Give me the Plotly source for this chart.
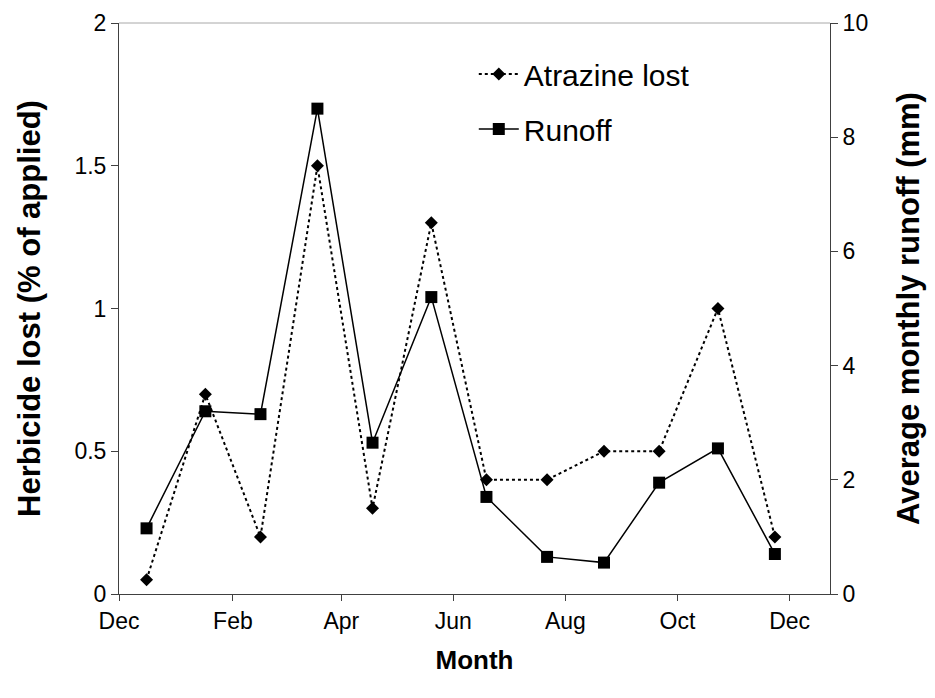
import plotly.graph_objects as go

# Sampling dates (approx. mid-month)
dates = ["2000-12-16", "2001-01-17", "2001-02-16", "2001-03-19", "2001-04-18",
         "2001-05-20", "2001-06-19", "2001-07-22", "2001-08-22", "2001-09-21",
         "2001-10-23", "2001-11-23"]

# Atrazine lost (% of applied), left axis
atrazine = [0.05, 0.7, 0.2, 1.5, 0.3, 1.3, 0.4, 0.4, 0.5, 0.5, 1.0, 0.2]

# Average monthly runoff (mm), right axis
runoff = [1.15, 3.2, 3.15, 8.5, 2.65, 5.2, 1.7, 0.65, 0.55, 1.95, 2.55, 0.7]

tick_dates = ["2000-12-01", "2001-02-01", "2001-04-01", "2001-06-01",
              "2001-08-01", "2001-10-01", "2001-12-01"]
tick_labels = ["Dec", "Feb", "Apr", "Jun", "Aug", "Oct", "Dec"]

FONT = "Liberation Sans, Arial, sans-serif"

fig = go.Figure()
fig.add_trace(go.Scatter(
    x=dates, y=atrazine, name="Atrazine lost", mode="lines+markers",
    line=dict(color="black", width=2, dash="3px,3px"),
    marker=dict(symbol="diamond", size=10, color="black"),
    legendgroup="a", yaxis="y"))
fig.add_trace(go.Scatter(
    x=dates, y=runoff, name="Runoff", mode="lines+markers",
    line=dict(color="black", width=1.5),
    marker=dict(symbol="square", size=12, color="black"),
    legendgroup="b", yaxis="y2"))

fig.update_layout(
    width=935, height=698,
    margin=dict(l=111, r=113, t=15, b=112, autoexpand=False),
    paper_bgcolor="white", plot_bgcolor="white",
    font=dict(family=FONT, color="black", size=22),
    showlegend=True,
    legend=dict(x=0.499, y=0.956, xanchor="left", yanchor="top",
                font=dict(size=30, family=FONT), bgcolor="rgba(0,0,0,0)",
                tracegroupgap=13, traceorder="grouped", itemwidth=40),
    xaxis=dict(
        type="date", range=["2000-12-01", "2001-12-23"], automargin=False,
        tickmode="array", tickvals=tick_dates, ticktext=tick_labels,
        ticks="outside", ticklen=6, tickcolor="#404040",
        showline=True, linecolor="#404040", linewidth=1,
        showgrid=False, zeroline=False,
        tickfont=dict(size=23, family=FONT),
        title=dict(text="<b>Month</b>", font=dict(size=26, family=FONT), standoff=18)),
    yaxis=dict(
        range=[0, 2], dtick=0.5, tick0=0, automargin=False,
        ticks="outside", ticklen=7, tickcolor="#404040",
        showline=True, linecolor="#404040", linewidth=1,
        showgrid=False, zeroline=False,
        tickfont=dict(size=23, family=FONT),
        title=dict(text="<b>Herbicide lost (% of applied)</b>",
                   font=dict(size=31, family=FONT), standoff=24)),
    yaxis2=dict(
        range=[0, 10], dtick=2, tick0=0, overlaying="y", side="right", automargin=False,
        ticks="outside", ticklen=7, tickcolor="#404040",
        showline=True, linecolor="#404040", linewidth=1,
        showgrid=False, zeroline=False,
        tickfont=dict(size=23, family=FONT),
        title=dict(text="<b>Average monthly runoff (mm)</b>",
                   font=dict(size=31, family=FONT), standoff=30)),
    shapes=[dict(type="line", xref="paper", yref="paper", x0=0, x1=1, y0=1, y1=1,
                 line=dict(color="#a8a8a8", width=1))],
)

fig.write_html("out.html")
